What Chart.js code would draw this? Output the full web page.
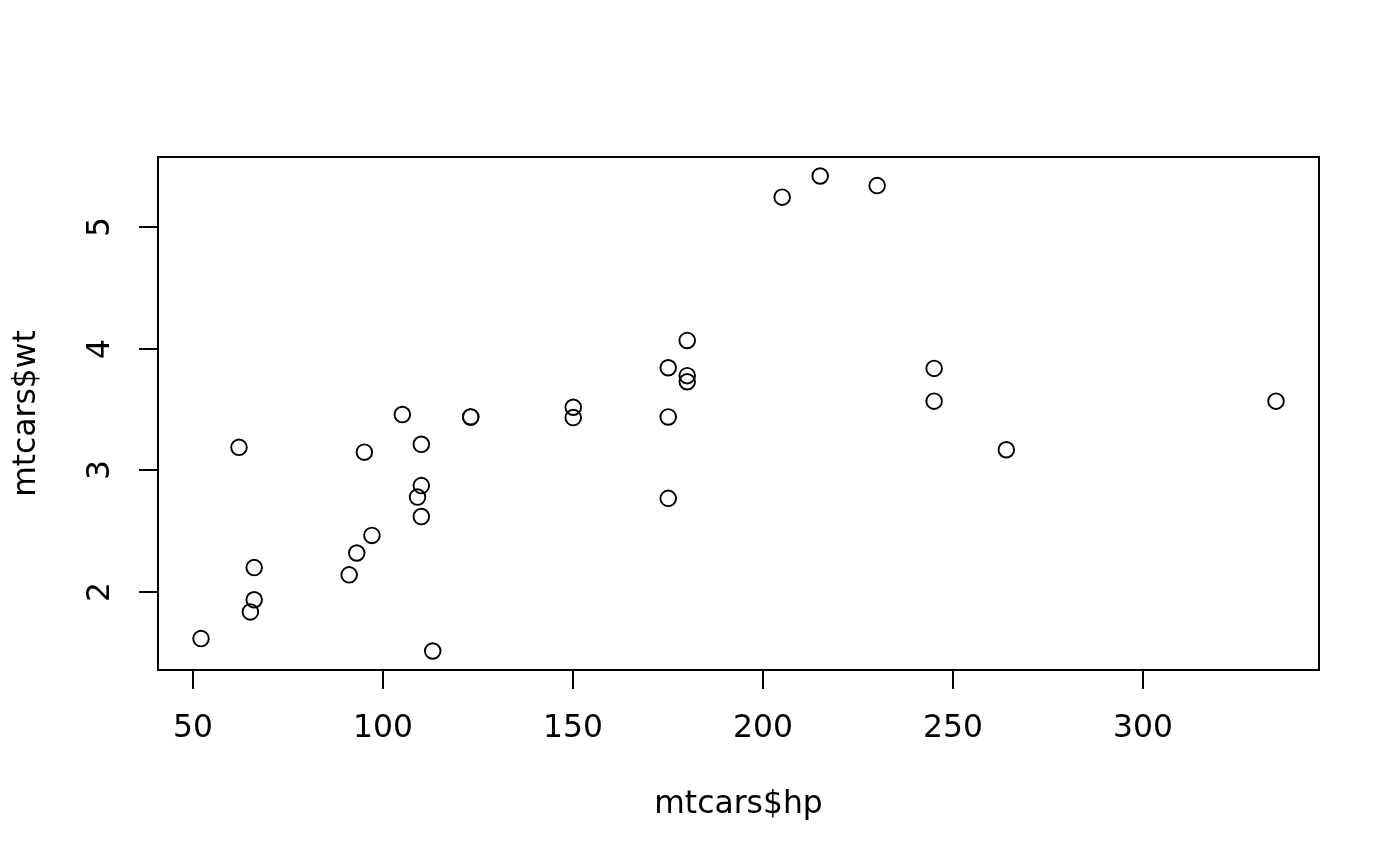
<!DOCTYPE html>
<html><head><meta charset="utf-8">
<script src="https://cdn.jsdelivr.net/npm/chart.js@4/dist/chart.umd.min.js"></script>
<style>html,body{margin:0;padding:0;background:#fff}#wrap{width:1400px;height:866px}</style>
</head><body><div id="wrap"><canvas id="c" width="1400" height="866"></canvas></div>
<script>
const hp = [110,110,93,110,175,105,245,62,95,123,123,180,180,180,205,215,230,66,52,65,97,150,150,245,175,66,91,113,264,175,335,109];
const wt = [2.620,2.875,2.320,3.215,3.440,3.460,3.570,3.190,3.150,3.440,3.440,4.070,3.730,3.780,5.250,5.424,5.345,2.200,1.615,1.835,2.465,3.520,3.435,3.840,3.845,1.935,2.140,1.513,3.170,2.770,3.570,2.780];
const xTicks = [50,100,150,200,250,300];
const yTicks = [2,3,4,5];
const xTitle = 'mtcars$hp';
const yTitle = 'mtcars$wt';

const FONT = '31.4px "DejaVu Sans"';
const ext = (a)=>{const mn=Math.min(...a),mx=Math.max(...a),d=(mx-mn)*0.04;return [mn-d,mx+d];};
const [xMin,xMax] = ext(hp);
const [yMin,yMax] = ext(wt);

const rAxes = {
  id:'rAxes',
  afterDraw(chart){
    const ctx=chart.ctx, a=chart.chartArea, xs=chart.scales.x, ys=chart.scales.y;
    ctx.save();
    ctx.strokeStyle='#000'; ctx.lineWidth=2;
    ctx.strokeRect(a.left,a.top,a.right-a.left,a.bottom-a.top);
    ctx.fillStyle='#000'; ctx.font=FONT;
    ctx.textAlign='center'; ctx.textBaseline='middle';
    xTicks.forEach(v=>{const px=Math.round(xs.getPixelForValue(v));
      ctx.beginPath();ctx.moveTo(px,a.bottom);ctx.lineTo(px,a.bottom+19);ctx.stroke();
      ctx.fillText(String(v),px,729);});
    yTicks.forEach(v=>{const py=Math.round(ys.getPixelForValue(v));
      ctx.beginPath();ctx.moveTo(a.left,py);ctx.lineTo(a.left-19,py);ctx.stroke();
      ctx.save();ctx.translate(101,py);ctx.rotate(-Math.PI/2);ctx.fillText(String(v),0,0);ctx.restore();});
    ctx.fillText(xTitle,(a.left+a.right)/2,805);
    ctx.save();ctx.translate(27,(a.top+a.bottom)/2);ctx.rotate(-Math.PI/2);ctx.fillText(yTitle,0,0);ctx.restore();
    ctx.restore();
  }
};

new Chart(document.getElementById('c'),{
  type:'scatter',
  data:{datasets:[{data:hp.map((h,i)=>({x:h,y:wt[i]})),
    pointStyle:'circle',pointRadius:7.8,pointHoverRadius:7.8,
    backgroundColor:'rgba(0,0,0,0)',borderColor:'#000',borderWidth:1.9}]},
  options:{
    responsive:false,animation:false,devicePixelRatio:1,
    layout:{padding:{left:158,top:157,right:81,bottom:196}},
    plugins:{legend:{display:false},tooltip:{enabled:false}},
    scales:{
      x:{type:'linear',display:false,min:xMin,max:xMax},
      y:{type:'linear',display:false,min:yMin,max:yMax}
    }
  },
  plugins:[rAxes]
});
</script>
</body></html>
